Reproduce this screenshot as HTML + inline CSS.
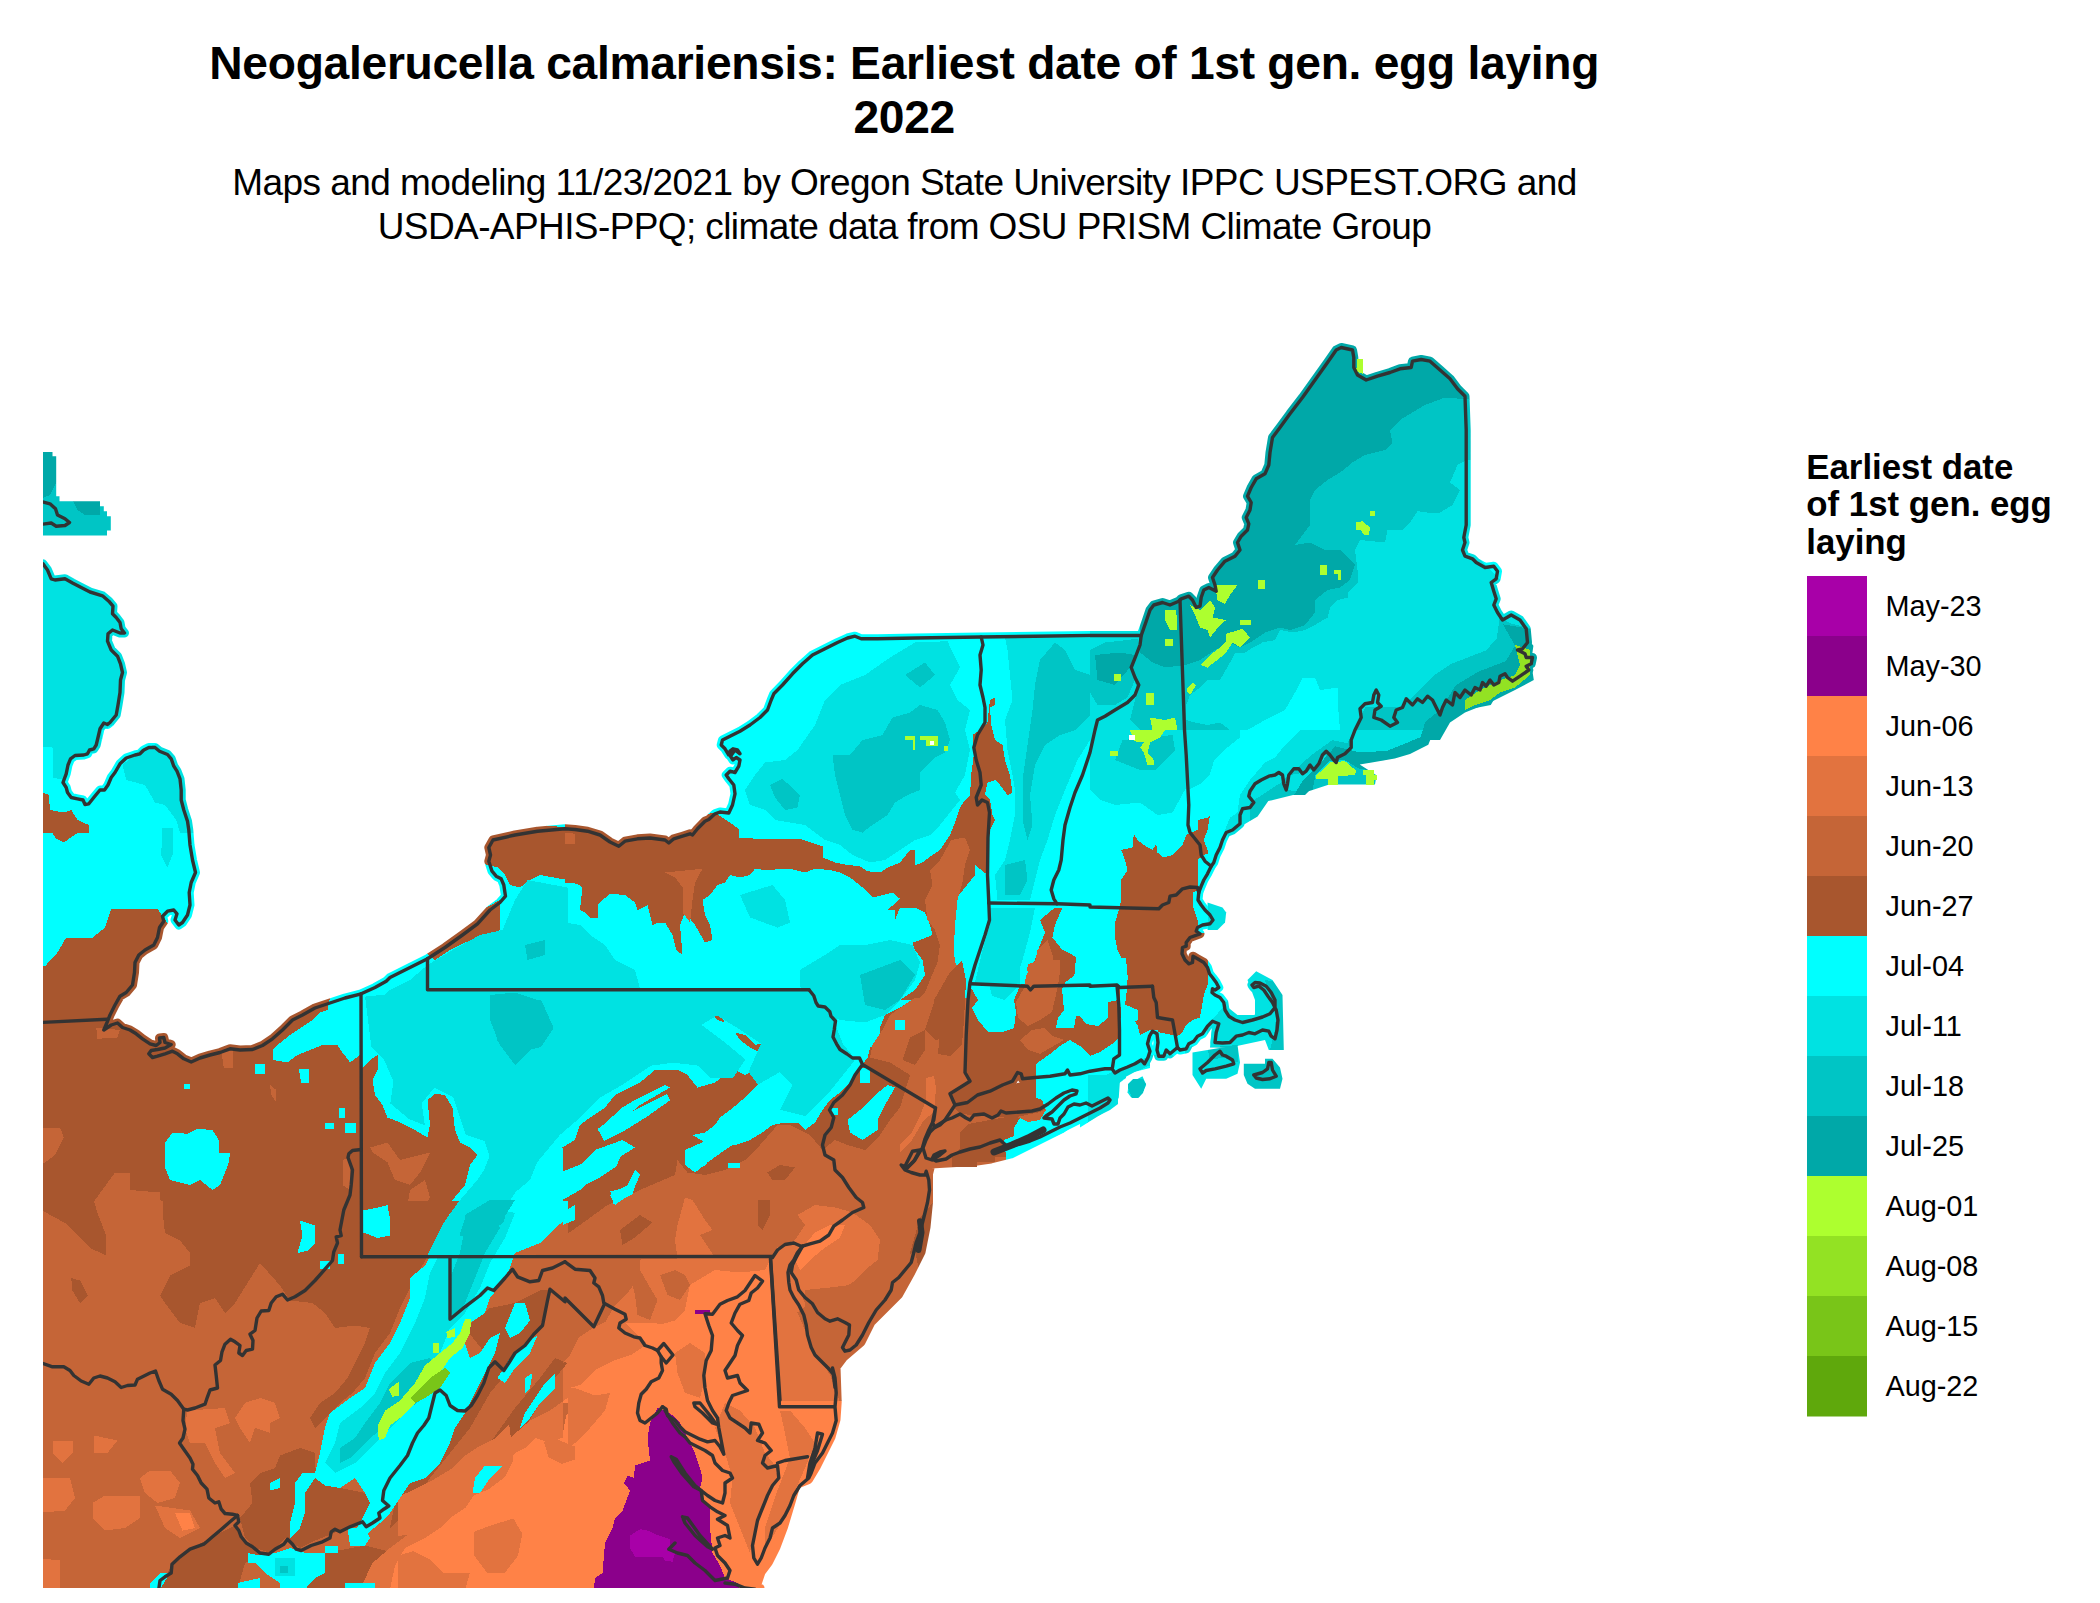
<!DOCTYPE html>
<html><head><meta charset="utf-8"><title>Neogalerucella calmariensis</title>
<style>html,body{margin:0;padding:0;background:#fff}svg{display:block}text{font-family:"Liberation Sans",sans-serif;fill:#000}</style></head><body>
<svg width="2100" height="1603" viewBox="0 0 2100 1603">
<rect width="2100" height="1603" fill="#fff"/>
<defs><clipPath id="box"><rect x="43" y="340" width="1720" height="1248"/></clipPath>
<mask id="land" maskUnits="userSpaceOnUse" x="0" y="0" width="2100" height="1603"><g fill="#fff" stroke="#fff" stroke-width="9" stroke-linejoin="round">
<path d="M40,563.8 43,563.8 47.5,570 51.2,578.8 55,580 65,578.8 72.5,583 81.2,587.5 90,592 102.5,595.8 108.8,601.2 113,606.2 112.5,613.8 116.2,617.5 120,622.5 121.2,628.8 124.5,633 120,633 112.5,630 108,633.8 107.5,641.2 111.2,650 117.5,656.2 120.5,663.8 122.5,672.5 120.5,680 120,692.5 118,705 116.2,715 112.5,719.5 110,722.5 107.5,724.5 103.8,723 100,728.8 98,737.5 96.2,745 93.8,748.8 89.5,750 87.5,753.8 83.8,755 75,755.5 70.5,758.8 68,765 66.2,773.8 63,782.5 66.2,787.5 67.5,792.5 71.2,797.5 77.5,798.8 83,800 85,804.5 88.8,803.8 93.8,797.5 100,790 104.5,790 108,785 111.2,777.5 115,772.5 120,763.8 126.2,758 135,755 140,753.8 143.8,750 148.8,747.5 155,747.5 159.5,751.2 167.5,754.5 171.2,758.8 173.8,766.2 177,771.2 180,778.8 181.2,790 181.2,800 183.8,810 187.5,821.2 188.8,830 190,845 192.5,860 195.5,872.5 191.2,882.5 189.2,892.5 190,905 187.5,915 182.5,922.5 178.8,925 175,920 177,913.8 173.8,910 167.5,911.2 162.5,916.2 163.8,921.2 159.5,927.5 157.5,937.5 153.8,945 145,950 138.8,955 135,962.5 134.5,972.5 132.5,985 126.2,992.5 120,996.2 115,1005 110,1015 107,1022.5 103.8,1030 111.2,1025 117.5,1023 122.5,1027.5 130,1030 136.2,1033.8 142.5,1038.8 150,1043.8 156.2,1045.5 160,1042.5 159.5,1038 163.8,1037.5 165,1042.5 171.2,1044.5 165,1048 157.5,1049.5 151.2,1050.5 148.8,1053.8 152.5,1057.5 157.5,1056.2 165,1053.8 172.5,1051.2 177.5,1053.8 183.8,1058.8 191.2,1062 200,1058 210,1055 220,1052.5 230,1048.8 240,1050 252.5,1049.5 262.5,1045.5 272.5,1038.8 282.5,1030 292.5,1020 302.5,1015 315,1008 330,1003 345,998 361.2,993.8 375,987.5 386.2,981.2 390,977.5 397.5,973.8 410,967.5 427.5,958.8 445,947.5 462.5,935 477.5,923.8 490,910 500,902.5 505.5,896.2 503.8,885 501.2,878.8 496.2,876.2 492,871.2 488.8,861.2 490.5,855 488.8,847.5 493,840 515,835 537.5,831.2 565,828.8 575,829.5 587.5,831.2 600,835 610,842 618.8,846.2 625,841.2 637.5,838.8 650,838 665,840 668.8,843 673.8,838.8 682.5,836.2 690,833.8 692.5,835 697.5,828.8 705,821.2 708.8,819.5 715,813.8 720,812 728.8,813 732.5,805 735,793.8 733.8,785 728.8,778.8 726.2,775 730,771.2 735,772.5 738.8,766.2 740,760 736.2,757.5 733,760 730.5,756.2 735,750 740,753.8 737.5,750 733,748.8 730,751.2 728.8,755 725,748.8 721.2,745 722.5,740 730,736.2 740,731.2 750,725 760,717.5 767.5,710 771.2,700 773.8,693.8 782.5,685 792.5,673.8 802.5,663.8 812.5,655 825,648.8 837.5,642.5 847.5,638 855,636.2 861.2,638.8 877.5,638.8 915,638 980,637 1090,635.5 1141.2,635.5 1146.2,621.2 1150,610 1153.8,605 1162.5,602.5 1170,605 1178.8,601.2 1181.2,598.8 1188.8,596.2 1192.5,600 1196.2,607.5 1200,606.2 1201.2,597.5 1203.8,590 1208.8,587.5 1216.2,591.2 1215,585 1212.5,577.5 1217.5,570 1225,561.2 1235,556.2 1240,550 1237.5,542.5 1241.2,536.2 1247.5,530 1248.8,523.8 1246.2,517.5 1250,510 1251.2,502.5 1247.5,496.2 1251.2,487.5 1256.2,478.8 1265,473.8 1268.8,465 1270,452.5 1272.5,437.5 1280,427.5 1290,413.8 1302.5,397.5 1315,380 1327.5,362.5 1336.2,350 1341.2,347.5 1352.5,350 1353.8,357.5 1353.8,367.5 1357.5,375 1366.2,380 1377.5,376.2 1390,372.5 1400,368.8 1411.2,367.5 1412.5,361.2 1421.2,359.5 1430,361.2 1440,370 1450,378.8 1457.5,388.8 1465,396.2 1466.2,430 1466.2,480 1466.2,525 1463.8,537.5 1465,542.5 1462.5,550 1465,556.2 1472.5,558.8 1476.2,562.5 1485,567.5 1493.8,566.2 1497.5,571.2 1496.2,578.8 1491.2,582.5 1493.8,591.2 1496.2,598.8 1493.8,605 1497.5,612.5 1502.5,620 1511.2,615 1520,620 1526.2,628.8 1527.5,642.5 1522.5,648.8 1517.5,650 1525,653.8 1526.2,657.5 1532.5,657.5 1531.2,663.8 1526.2,666.2 1528.8,670 1520,676.2 1512.5,681.2 1507.5,677.5 1505,673.8 1500,676.2 1498.8,682.5 1493.8,685 1490,680 1486.2,686.2 1482.5,682.5 1480,690 1475,687.5 1471.2,695 1465,690 1460,697.5 1455,692.5 1452.5,705 1446.2,700 1442.5,707.5 1440,715 1436.2,707.5 1432.5,700 1427.5,696.2 1422.5,702.5 1417.5,698.8 1412.5,705 1406.2,698.8 1402.5,707.5 1396.2,710 1393.8,717.5 1397.5,722.5 1390,726.2 1381.2,720 1373.8,717.5 1375,710 1381.2,706.2 1377.5,702.5 1378.8,695 1376.2,690 1373.8,695 1372.5,702.5 1365,703.8 1360,708.8 1361.2,717.5 1357.5,725 1355,730 1351.2,740 1351.2,747.5 1345,753.8 1337.5,757.5 1336.2,762.5 1333.8,760 1330,755 1326.2,751.2 1322.5,755 1318.8,763.8 1313.8,770 1310,765 1306.2,771.2 1302.5,773.8 1298.8,768.8 1293.8,768.8 1288.8,775 1287.5,783.8 1286.2,790 1283.8,783.8 1282.5,775 1278.8,772.5 1275,775 1268.8,776.2 1261.2,780 1255,783.8 1250,791.2 1248.8,796.2 1253.8,802.5 1250,807.5 1242.5,808.8 1240,815 1240,823.8 1232.5,830 1226.2,832.5 1222.5,840 1220,847.5 1216.2,855 1213.8,862.5 1211.2,866.2 1207.5,873.8 1203.8,880 1201.2,886.2 1198.8,892.5 1198,900 1201.2,905 1205,910 1210,915 1213,920 1210,923.8 1202.5,925 1197.5,927.5 1196.2,931.2 1200,933.8 1190,937.5 1186.2,942.5 1186.2,946.2 1182.5,947.5 1182,953.8 1185,960 1188.8,963.8 1192.5,962.5 1193,956.2 1197.5,958.8 1203.8,962.5 1207.5,967.5 1209.5,973.8 1212.5,977.5 1216.2,982.5 1218.8,987.5 1215,990 1212.5,988.8 1212,992.5 1215,995 1220,997.5 1223.8,1002.5 1225,1010 1228.8,1016.2 1235,1020 1242.5,1022.5 1252.5,1020 1262.5,1017 1270,1013.8 1275,1007.5 1275,1000 1271.2,992.5 1266.2,986.2 1260,983 1255,982.5 1252,985 1253.8,987.5 1258.8,986.2 1263.8,990 1268,996.2 1272.5,1002.5 1276.2,1010 1278,1020 1277,1030 1275,1038.8 1271.2,1036.2 1268.8,1031.2 1262.5,1030 1255,1033.8 1248.8,1032.5 1242.5,1035 1236.2,1036.2 1230,1042.5 1222.5,1043 1215,1042.5 1216.2,1032.5 1218.8,1023.8 1212.5,1021.2 1207.5,1026.2 1202.5,1033.8 1197.5,1036.2 1193.8,1041.2 1188.8,1043.8 1186.2,1048.8 1180,1050 1177.5,1047.5 1170,1053.8 1166.2,1050 1163.8,1056.2 1158.8,1056.2 1157,1050 1158,1042.5 1157,1033.8 1152.5,1031.2 1149.5,1036.2 1147.5,1043.8 1150,1051.2 1148,1057.5 1144.5,1063.8 1141.2,1060 1135,1063.8 1127.5,1067 1120,1070 1115,1073 1112,1068.8 1105,1068.8 1090,1071.2 1080,1073.8 1070,1075 1067.5,1070 1065,1073.8 1050,1076.2 1035,1077.5 1022.5,1078.8 1021.2,1073.8 1017.5,1072.5 1012.5,1081.2 1002.5,1085 990,1091.2 977.5,1095 967.5,1102.5 955,1105 1088.5,1109 1061,1129 1036,1141.5 1011,1154 991,1159 973.5,1161.5 931,1164 928.5,1174 928.5,1199 928.5,1202 926,1227 921,1252 911,1272 898.5,1294.5 886,1307 871,1322 861,1342 843.5,1357 836,1367 837.2,1402 836,1419.5 831,1437 823.5,1452 816,1467 808.5,1479.5 796,1484.5 791,1502 783.5,1527 776,1547 768.5,1562 761,1572 756,1587 760,1588 40,1588 40,563.8Z"/>
</g><g fill="#fff">
<path d="M40,452 52.5,452 52.5,456.2 56.2,456.2 56.2,496.2 59.5,496.2 59.5,501.2 100,501.2 100,506.2 103.8,506.2 103.8,511.2 107,511.2 107,516.2 110.8,516.2 110.8,530.5 107,530.5 107,535.5 40,535.5Z"/>
<path d="M1355,720 1437.5,720 1431.2,735 1422.5,746.2 1410,751.2 1395,756.2 1385,760 1360,761.2 1340,771.2 1315,775 1312.5,787.5 1305,795 1287.5,795 1287.5,775 1315,755 1350,745Z"/>
<path d="M1192.5,1052.5 1237.5,1045 1240,1062.5 1237.5,1073.8 1226.2,1078.8 1206.2,1078.8 1201.2,1088.8 1192.5,1075Z"/>
<path d="M1243.8,1063.8 1265,1063.8 1265,1058.8 1272.5,1058.8 1280,1067.5 1282.5,1078.8 1280,1088.8 1255,1088.8 1247.5,1083.8 1243.8,1075Z"/>
<path d="M1128.8,1083.8 1142.5,1076.2 1146.2,1085 1142.5,1092.5 1138.8,1097.5 1131.2,1097.5 1127.5,1092.5Z"/>
<path d="M1080,1070 1147.5,1065 1120,1080 1118.8,1097.5 1115,1105 1100,1115 1080,1127.5Z"/>
<path d="M1207.5,902.5 1222.5,907.5 1226.2,912.5 1225,922.5 1217.5,930 1207.5,930Z"/>
<path d="M1247.5,980 1256.2,971.2 1272.5,980 1282.5,995 1283.8,1050 1268.8,1050 1265,1040 1230,1047.5 1210,1047.5 1212.5,1020 1225,1005 1237.5,1015 1255,1015 1255,1000Z"/>
<path d="M934,1100 1150,1056 1150,1068 1126,1074 1126,1078 1118,1084 1118,1104 1110,1110 1100,1115 1092,1118 1080,1124 1068,1130 1056,1136 1040,1142 1024,1150 1009,1152 1009,1157 995,1157 995,1162 977,1162 977,1167 932,1167 924,1160 920,1140Z"/>
<path d="M1128,1084 1133,1079 1143,1079 1146,1084 1143,1093 1138,1098 1132,1098 1128,1088Z"/>
<path d="M1365,700 1465,687.5 1515,675 1530,655 1533.8,680 1515,690 1490,702.5 1465,712.5 1450,722.5 1440,740 1352.5,740Z"/>
<path d="M1533.4,645.7 1529.6,673.1 1518.2,685.3 1496.9,694.5 1490.8,705.1 1466.4,709.7 1448.1,718.9 1434.4,729.5 1428.3,744.8 1410,753.9 1394.8,758.5 1359.7,764.6 1376.5,775.2 1375,784.4 1329.2,784.4 1311,790.5 1268.3,801.1 1257.6,816.4 1242.4,825.5 1242.4,767.6 1341.4,706.7 1432.9,661 1509,615.2Z"/>
</g></mask></defs>
<g clip-path="url(#box)"><g mask="url(#land)" shape-rendering="crispEdges">
<rect x="0" y="300" width="1800" height="1300" fill="#00FFFF"/>
<path fill="#A8562E" d="M565,815 675,820 715,812.5 738.8,828.8 738.8,837.5 757.5,838.8 777.5,838.8 802.5,839.5 822.5,846.2 822.5,857.5 835,862.5 847.5,865 860,866.2 867.5,871.2 880,872.5 887.5,867.5 900,862.5 910,850 915,850 915,865 922.5,862.5 932.5,855 940,850 950,835 955,822.5 960,807.5 965,800 970,795 971.2,775 973.8,755 972.5,735 980,730 987.5,722.5 990,700 995,697.5 995,705 990,707.5 991.2,725 995,740 1002.5,745 1005,760 1010,775 1012.5,792.5 1007.5,795 1000,785 995,780 987.5,782.5 985,795 990,800 992.5,815 995,820 990,830 987.5,850 987.5,875 975,865 975,875 965,887.5 955,900 947.5,915 945,932.5 940,950 937.5,962.5 935,975 930,990 925,1000 900,1000 915,990 925,975 922.5,960 915,950 912.5,942.5 920,940 932.5,935 930,925 925,912.5 915,907.5 900,907.5 895,920 895,910 887.5,910 900,898.8 892.5,892.5 872.5,897.5 862.5,887.5 850,877.5 840,872.5 830,870 815,868.8 805,872.5 790,868.8 765,870 755,868.8 750,875 740,877.5 730,875 725,882.5 717.5,885 710,895 702.5,900 705,915 710,925 712.5,940 705,942.5 695,925 685,912.5 680,925 682.5,955 676.2,950 672.5,935 665,922.5 657.5,922.5 652.5,925 647.5,905 637.5,910 635,902.5 625,895 610,893.8 602.5,900 597.5,905 597.5,917.5 590,917.5 585,912.5 580,910 582.5,887.5 577.5,883.8 565,882.5Z M1040,920 1055,907.5 1062.5,907.5 1055,925 1052.5,937.5 1062.5,950 1072.5,955 1080,960 1075,975 1065,982.5 1062.5,1000 1027.5,1000 1027.5,975 1035,960 1040,945 1045,932.5Z M1121.2,890 1121.2,880 1127.5,870 1125,860 1121.2,850 1132.5,847.5 1133.8,833.8 1137.5,840 1143.8,845 1152.5,850 1156.2,843.8 1157.5,852.5 1162.5,857.5 1172.5,855 1182.5,845 1186.2,835 1197.5,830 1197.5,820 1207.5,817.5 1210,815 1207.5,830 1203.8,840 1207.5,850 1207.5,853.8 1203.8,855 1197.5,860 1197.5,890 1192.5,892.5 1192.5,905 1197.5,920 1197.5,932.5 1207.5,932.5 1207.5,937.5 1200,942.5 1200,952.5 1207.5,955 1207.5,985 1203.8,995 1200,1017.5 1192.5,1020 1186.2,1025 1182.5,1032.5 1177.5,1036.2 1172.5,1035 1160,1032.5 1150,1030 1140,1035 1137.5,1025 1132.5,1017.5 1127.5,1012.5 1125,1005 1127.5,985 1125,975 1122.5,960 1117.5,950 1115,937.5 1115,922.5 1118.8,910 1121.2,900Z M1087.5,1025 1100,1027.5 1105,1015 1108.8,1001.2 1110,1017.5 1108.8,1035 1113.8,1040 1112.5,1047.5 1105,1052.5 1097.5,1057.5 1087.5,1055Z M562.5,1147.5 575,1140 580,1125 590,1117.5 605,1107.5 615,1095 630,1087.5 640,1082.5 655,1070 677.5,1070 687.5,1075 697.5,1087.5 715,1082.5 725,1075 735,1070 745,1075 755,1070 765,1060 772.5,1057.5 765,1042.5 755,1045 745,1035 735,1032.5 740,1040 750,1047.5 760,1052.5 765,1065 777.5,1060 787.5,1055 782.5,1065 772.5,1075 762.5,1082.5 752.5,1095 740,1105 730,1110 720,1117.5 715,1125 705,1132.5 692.5,1135 705,1142.5 715,1147.5 735,1145 750,1140 762.5,1132.5 772.5,1125 785,1122.5 797.5,1122.5 805,1130 815,1122.5 822.5,1110 830,1100 840,1092.5 850,1082.5 857.5,1072.5 862.5,1064.5 867.5,1057.5 870,1047.5 880,1042.5 880,1027.5 885,1015 900,1007.5 915,997.5 1092.5,997.5 1092.5,1402.5 562.5,1402.5Z M712.5,1015 720,1015 725,1022.5 717.5,1020Z M37.5,790 48.8,795 50,810 63.8,812.5 71.2,810 77.5,820 88.8,825 88.8,832.5 37.5,832.5Z M48.8,827.5 85,827.5 63.8,842.5 56.2,838.8Z M37.5,966.2 45,966.2 57.5,952.5 66.2,937.5 92.5,937.5 105,927.5 111.2,908.8 157.5,908.8 162.5,916.2 190,955 190,1025 215,1037.5 252.5,1037.5 287.5,1007.5 315,992.5 331.2,992.5 327.5,1010 320,1012.5 312.5,1020 305,1025 290,1035 277.5,1045 272.5,1050 272.5,1060 287.5,1062.5 297.5,1055 310,1050 322.5,1045 337.5,1045 342.5,1052.5 350,1062.5 360,1055 361.2,1070 370,1060 377.5,1055 377.5,1070 372.5,1080 375,1095 382.5,1105 387.5,1117.5 400,1122.5 415,1130 427.5,1137.5 430,1125 427.5,1100 435,1093.8 445,1095 452.5,1107.5 455,1130 460,1142.5 470,1147.5 477.5,1155 470,1165 465,1185 452.5,1200 445,1215 440,1232.5 37.5,1232.5Z M422.5,950 462.5,920 477.5,912.5 500,900 500,930 485,935 465,942.5 450,950 435,960Z M487.5,865 480,862.5 480,837.5 515,822.5 567.5,827.5 567.5,880 540,875 530,880 520,887.5 510,885 505,875 497.5,867.5Z"/>
<path fill="#C56537" d="M665,872.5 702.5,868.8 695,882.5 692.5,900 690,922.5 682.5,912.5 682.5,887.5 675,877.5Z M565,832.5 575,833.8 575,843.8 565,843.8Z M1037.5,950 1047.5,940 1052.5,955 1055,970 1050,990 1040,1000 1030,1000 1032.5,975Z M562.5,1237.5 580,1225 607.5,1205 640,1190 675,1175 677.5,1160 687.5,1172.5 705,1175 725,1170 745,1160 760,1145 777.5,1125 790,1125 810,1135 822.5,1150 835,1140 847.5,1145 865,1150 880,1135 890,1120 900,1107.5 910,1075 890,1062.5 870,1057.5 872.5,1045 882.5,1030 890,1015 915,997.5 1092.5,997.5 1092.5,1175 940,1175 935,1250 865,1362.5 840,1402.5 562.5,1402.5Z M37.5,1127.5 60,1127.5 63.8,1137.5 55,1155 45,1162.5 37.5,1162.5Z M95,1200 115,1172.5 130,1172.5 130,1190 160,1192.5 162.5,1232.5 100,1232.5Z M262.5,1215 277.5,1210 280,1232.5 262.5,1232.5Z M37.5,1210 55,1220 60,1232.5 37.5,1232.5Z M221.2,1050 232.5,1050 232.5,1067.5 223.8,1067.5Z M96.2,1027.5 120,1030 117.5,1037.5 97.5,1038.8Z M270,1085 276.2,1090 276.2,1102.5 271.2,1095Z M370,1147.5 387.5,1142.5 400,1160 430,1152.5 420,1172.5 410,1185 395,1180 387.5,1162.5 372.5,1152.5Z M410,1190 425,1180 430,1197.5 415,1220 407.5,1205Z M342.5,1160 350,1157.5 350,1190 342.5,1185Z M37.5,1200.5 567.5,1200.5 567.5,1589.2 37.5,1589.2Z M951.2,840 965,837.5 970,850 965,865 962.5,882.5 957.5,900 955,925 953.8,950 955,962.5 962.5,975 962.5,1002.5 915,1002.5 925,992.5 930,980 937.5,962.5 940,945 935,930 927.5,920 925,900 932.5,885 930,870 940,860Z"/>
<path fill="#E2733F" d="M562.5,1260 615,1260 677.5,1258.8 675,1240 677.5,1225 685,1197.5 692.5,1200 705,1220 712.5,1230 700,1235 715,1257.5 772.5,1257.5 777.5,1247.5 795,1240 805,1225 797.5,1215 815,1205 835,1207.5 852.5,1212.5 870,1225 880,1240 877.5,1260 865,1270 850,1285 830,1287.5 805,1290 805,1312.5 815,1350 830,1375 840,1402.5 562.5,1402.5Z"/>
<path fill="#FF8247" d="M815,1232.5 830,1225 845,1225 840,1237.5 825,1247.5 810,1260 800,1270 795,1260 802.5,1247.5Z M690,1285 715,1270 740,1272.5 765,1270 770,1260 772.5,1325 775,1402.5 640,1402.5 650,1385 660,1370 660,1355 640,1337.5 625,1322.5 647.5,1322.5 670,1325 685,1310Z M562.5,1390 580,1385 595,1370 615,1360 635,1355 650,1365 652.5,1380 640,1402.5 562.5,1402.5Z M562.5,1435.5 566,1416 574.8,1402.8 574.8,1389.8 592.2,1381 609.5,1368 618.2,1359.2 631.5,1354.8 644.5,1346 649,1333 662,1324.2 675,1320.5 690,1318 692.5,1288 705,1278 715,1270.5 740,1275.5 765,1270.5 770.5,1260.5 779,1400.5 847.5,1400.5 847.5,1428 815,1488 765,1589.2 562.5,1589.2Z"/>
<path fill="#A8562E" d="M935,1000 965,1000 962.5,1025 950,1037.5 935,1040 925,1030Z M910,1037.5 925,1030 925,1050 915,1065 902.5,1060Z M620,1230 640,1215 652.5,1222.5 635,1237.5 622.5,1245Z M757.5,1200 770,1200 770,1215 762.5,1230 757.5,1225Z M767.5,1172.5 780,1165 795,1167.5 785,1180 772.5,1180Z M677.5,1155 695,1172.5 715,1165 735,1150 720,1145 705,1150Z M920,1218 932.5,1203 932.5,1228 925,1258 910,1283 890,1308 870,1328 852.5,1353 840,1358 845,1338 865,1315.5 885,1290.5 910,1253Z M934,1000 950,972 962,960 966,980 964,1020 962,1044 950,1056 938,1054 940,1030Z M960,1132 968,1124 1012,1116 1020,1118 1014,1128 1014,1136 1004,1140 1008,1152 1008,1157 995,1157 995,1162 977,1162 977,1167 952,1167 952,1156 960,1148Z M978,1096 1000,1092 1020,1082 1036,1080 1036,1100 1040,1109 1020,1112 1000,1112 992,1118 984,1114 974,1115 960,1114 954,1108Z M968,984 1120,984 1122,1072 1040,1112 1012,1118 960,1114 950,1096 970,1082 964,1072Z M37.5,1208 65,1223 90,1248 106.2,1255.5 106.2,1235.5 97.5,1213 93.8,1200.5 37.5,1200.5Z M162.5,1200.5 362.5,1200.5 362.5,1256.8 427.5,1256.8 415,1278 400,1308 390,1333 375,1353 365,1378 352.5,1393 340,1403 325,1418 315,1428 310,1418 320,1403 335,1393 347.5,1378 365,1343 370,1328 355,1325.5 335,1328 325,1313 312.5,1303 290,1300.5 280,1285.5 260,1263 247.5,1283 235,1303 225,1313 215,1298 200,1303 195,1328 180,1323 165,1303 160,1295.5 170,1275.5 190,1265.5 190,1253 180,1240.5 165,1233 162.5,1210.5Z M280,1455.5 300,1448 315,1453 315,1468 335,1473 340,1488 365,1493 375,1503 365,1520.5 340,1530.5 315,1540.5 300,1548 285,1538 270,1553 255,1548 245,1538 240,1518 252.5,1503 250,1483 260,1473 275,1468Z M160,1589.2 172.5,1563 190,1549.2 215,1535.5 235,1525.5 247.5,1543 265,1555.5 245,1563 237.5,1589.2Z M325,1553 365,1545.5 395,1553 395,1589.2 290,1589.2 315,1565.5Z M465,1328 490,1308 515,1303 540,1290.5 550,1289.2 540,1328 515,1363 490,1393 470,1428 450,1453 430,1478 415,1503 390,1528 395,1503 410,1473 430,1428 440,1398 460,1403 475,1378 485,1353Z M567.5,1363 555,1378 540,1403 525,1428 510,1453 490,1478 465,1503 475,1473 490,1443 515,1408 540,1378 555,1358Z M71.2,1278 80,1280.5 87.5,1295.5 80,1303 72.5,1290.5Z M362.5,1200.5 470,1200.5 445,1256.8 362.5,1256.8Z"/>
<path fill="#C56537" d="M562.5,1260 590,1270 597.5,1287.5 602.5,1305 595,1325 562.5,1300Z M630,1275 640,1270 650,1287.5 657.5,1300 650,1320 637.5,1315 635,1295Z M660,1275 675,1270 685,1275 690,1285 680,1300 667.5,1295Z M797.5,1312.5 815,1300 840,1290 865,1275 890,1270 915,1250 920,1275 865,1362.5 840,1375 815,1355 805,1330Z M797.5,1285.5 815,1308 840,1320.5 850,1328 842.5,1353 833.8,1368 815,1343 805,1303Z"/>
<path fill="#E2733F" d="M675,1353 690,1343 705,1353 705,1378 700,1398 685,1393 677.5,1373Z M725,1403 740,1410.5 755,1428 765,1453 775,1465.5 777.5,1478 765,1503 755,1528 750,1553 740,1528 730,1503 732.5,1478 725,1453 715,1428Z M562.5,1388 575,1388 595,1395.5 610,1393 605,1410.5 590,1428 575,1443 562.5,1453Z M780,1410.5 790,1410.5 805,1428 815,1443 805,1468 795,1490.5 785,1515.5 775,1533 765,1548 765,1528 777.5,1490.5 790,1458 785,1433Z M926,1078 934,1076 936,1088 934,1112 924,1120 912,1140 900,1152 900,1144 912,1132 920,1116 926,1100Z M567.5,1398 550,1410.5 530,1420.5 510,1438 490,1458 470,1478 450,1498 430,1515.5 410,1533 390,1548 372.5,1563 360,1589.2 567.5,1589.2Z M187.5,1410.5 225,1408 230,1423 215,1428 220,1453 235,1473 225,1478 215,1463 205,1443 190,1443 185,1428Z M235,1418 245,1403 260,1398 275,1403 280,1418 270,1423 270,1433 255,1428 250,1443 240,1428Z M52.5,1440.5 72.5,1440.5 72.5,1453 62.5,1463 52.5,1453Z M93.8,1435.5 117.5,1440.5 107.5,1453 93.8,1453Z M140,1478 150,1470.5 170,1470.5 180,1483 175,1498 157.5,1503 145,1493Z M92.5,1503 105,1495.5 140,1495.5 140,1518 125,1528 105,1530.5 92.5,1518Z M37.5,1478 70,1478 75,1498 65,1510.5 37.5,1513Z M155,1505.5 190,1510.5 200,1528 180,1538 165,1528Z M37.5,1558 60,1560.5 60,1589.2 37.5,1589.2Z"/>
<path fill="#FF8247" d="M567.5,1435.5 550,1443 535,1438 525,1448 515,1453 505,1463 490,1478 480,1493 465,1498 450,1518 440,1528 425,1538 405,1548 395,1565.5 390,1589.2 567.5,1589.2Z M175,1513 190,1513 195,1528 182.5,1530.5Z"/>
<path fill="#C56537" d="M1028,964 1040,960 1060,960 1060,972 1058,986 1052,1012 1040,1020 1028,1026 1018,1018 1016,1002 1024,988Z M1020,1040 1032,1030 1044,1028 1052,1036 1064,1040 1050,1048 1040,1054 1028,1050Z M926,1126 960,1114 968,1124 960,1132 960,1148 952,1156 932,1160 923,1148Z M562.7,1258.7 640.2,1258.7 640.2,1276.2 627.1,1293.7 614,1306.8 605.2,1322.1 592.1,1328.6 579,1337.3 570.3,1354.8 562.7,1363.5Z"/>
<path fill="#E2733F" d="M474.2,1531.7 491.7,1525.1 513.5,1518.6 522.3,1533.8 517.9,1555.7 504.8,1573.1 487.3,1573.1 474.2,1555.7Z M397.8,1555.7 413.1,1551.3 430.6,1560 443.7,1573.1 469.9,1573.1 465.5,1588.4 397.8,1588.4Z M397.8,1496.7 413.1,1490.2 430.6,1481.4 452.4,1468.3 465.5,1455.2 478.6,1446.5 496.1,1437.8 509.2,1424.7 513.5,1459.6 504.8,1477.1 487.3,1490.2 474.2,1494.5 465.5,1507.6 452.4,1516.4 439.3,1525.1 426.2,1520.7 417.5,1533.8 397.8,1536Z M544.1,1442.1 552.8,1437.8 574.7,1446.5 574.7,1459.6 561.6,1464 548.5,1457.4Z"/>
<path fill="#8B008B" d="M695,1309.5 709.5,1309.5 709.5,1313.8 695,1313.8Z M593.8,1589.2 595,1578 602.5,1573 605,1543 612.5,1528 615,1518 622.5,1510.5 630,1490.5 623.8,1483 627.5,1475.5 633.8,1478 635,1465.5 650,1460.5 647.5,1438 650,1423 657.5,1408 665,1410.5 672.5,1415.5 680,1423 685,1433 690,1443 695,1453 700,1468 702.5,1478 700,1488 705,1503 710,1508 710,1528 712.5,1553 720,1565.5 725,1578 737.5,1583 740,1589.2Z"/>
<path fill="#A800A8" d="M630,1535.5 640,1529.2 647.5,1530.5 655,1534.2 670,1539.2 670,1550.5 675,1553 672.5,1561.8 665,1560.5 662.5,1556.8 635,1556.8 630,1548Z"/>
<path fill="#00FFFF" d="M1302.5,677.5 1315,677.5 1320,690 1337.5,687.5 1337.5,700 1327.5,712.5 1315,720 1302.5,730 1247.5,730 1265,720 1285,710 1295,692.5Z M597.5,1130 622.5,1107.5 635,1100 665,1085 670,1087.5 640,1105 625,1117.5 605,1135Z M562.5,1175 580,1165 595,1150 622.5,1140 635,1147.5 615,1160 595,1175 580,1190 562.5,1200Z M610,1195 627.5,1185 635,1170 640,1175 632.5,1192.5 615,1205Z M562.5,1212.5 575,1205 575,1220 562.5,1225Z M685,1150 707.5,1140 725,1132.5 740,1140 725,1150 707.5,1162.5 695,1172.5 685,1165Z M727.5,1162.5 740,1162.5 740,1167.5 727.5,1167.5Z M847.5,1120 860,1110 875,1095 887.5,1085 895,1087.5 885,1105 877.5,1120 877.5,1130 862.5,1140 850,1132.5Z M830,1107.5 837.5,1107.5 837.5,1115 830,1115Z M860,1067.5 870,1067.5 870,1082.5 860,1082.5Z M895,1020 905,1020 905,1030 895,1030Z M970,966 1020,960 1028,972 1020,986 1014,1000 1016,1012 1014,1028 1002,1032 988,1032 978,1020 972,1008 978,1000 970,986Z M1076,958 1126,958 1128,980 1118,986 1118,1000 1108,1002 1108,1018 1098,1026 1086,1024 1080,1016 1076,1016 1074,1028 1056,1028 1058,1018 1064,1010 1062,988 1074,980Z M1036,1064 1050,1054 1060,1046 1070,1040 1080,1046 1090,1056 1100,1052 1112,1044 1120,1036 1120,1020 1124,1004 1138,1010 1138,1020 1128,1026 1126,1040 1140,1040 1150,1030 1158,1030 1160,1048 1180,1048 1180,1112 1120,1126 1008,1172 1004,1140 1014,1136 1014,1128 1020,1118 1028,1122 1040,1120 1046,1110 1042,1100 1036,1098Z M165,1142.5 172.5,1132.5 187.5,1133.8 197.5,1128.8 212.5,1130 218.8,1140 218.8,1152.5 230,1152.5 228.8,1162.5 225,1172.5 220,1185 212.5,1190 200,1180 190,1185 170,1180 165,1167.5Z M255,1063.8 265,1063.8 265,1073.8 255,1073.8Z M183.8,1083.8 190,1083.8 190,1088.8 183.8,1088.8Z M298.8,1068.8 308.8,1068.8 308.8,1082.5 301.2,1082.5Z M338.8,1107.5 345,1107.5 345,1117.5 338.8,1117.5Z M345,1122.5 356.2,1122.5 356.2,1132.5 345,1132.5Z M325,1122.5 333.8,1122.5 333.8,1128.8 325,1128.8Z M362.5,1212.5 387.5,1205 387.5,1232.5 362.5,1232.5Z M430,1256.8 440,1233 450,1213 465,1200.5 567.5,1200.5 567.5,1218 555,1228 540,1243 515,1253 510,1268 500,1285.5 490,1298 485,1313 470,1323 465,1343 470,1358 480,1353 490,1338 500,1333 495,1353 485,1373 475,1393 465,1413 455,1428 450,1443 440,1463 425,1478 410,1483 400,1498 390,1513 380,1523 365,1535.5 350,1538 360,1523 370,1503 365,1493 355,1478 340,1488 325,1485.5 315,1478 305,1493 305,1513 300,1528 290,1538 290,1523 295,1503 295,1483 302.5,1473 315,1473 320,1453 325,1428 330,1413 350,1398 365,1388 375,1363 390,1343 400,1323 410,1298 410,1278 425,1265.5Z M515,1303 525,1303 530,1320.5 520,1333 510,1338 505,1328Z M525,1343 537.5,1335.5 530,1353 515,1368 505,1383 497.5,1378 510,1358Z M525,1378 532.5,1373 530,1388 525,1393Z M545,1383 555,1373 555,1388 540,1403 530,1418 520,1428 525,1413 535,1398Z M475,1478 485,1465.5 502.5,1465.5 490,1478 480,1493 472.5,1493Z M247.5,1553 260,1555.5 275,1553 290,1548 305,1553 325,1553 325,1573 315,1578 305,1589.2 280,1589.2 280,1583 265,1573 255,1563 247.5,1563Z M347.5,1528 365,1528 370,1538 365,1545.5 350,1545.5Z M325,1545.5 337.5,1545.5 337.5,1553 325,1553Z M345,1583 375,1583 375,1589.2 345,1589.2Z M237.5,1583 260,1578 260,1589.2 237.5,1589.2Z M150,1583 160,1573 170,1573 160,1589.2 150,1589.2Z M362.5,1210.5 375,1208 387.5,1205.5 390,1218 390,1235.5 377.5,1238 365,1233Z M300,1220.5 315,1225.5 315,1243 307.5,1250.5 297.5,1253 302.5,1235.5Z M320,1260.5 330,1260.5 330,1269.2 320,1269.2Z M337.5,1254.2 343.8,1254.2 343.8,1264.2 337.5,1264.2Z M270,1483 280,1478 280,1488 270,1490.5Z M597.7,1128.6 622.8,1116 666.8,1094 670,1100.3 648,1116 622.8,1131.7 604,1141.1Z M560,1172.6 591.4,1160 622.8,1150.6 616.6,1166.3 597.7,1178.8 572.6,1191.4 560,1188.3Z M685.7,1156.8 704.6,1141.1 723.4,1116 745.4,1097.1 761.1,1081.4 780,1065.7 786.3,1059.4 780,1078.3 761.1,1097.1 745.4,1116 723.4,1141.1 704.6,1166.3 685.7,1166.3Z M610.3,1191.4 635.4,1185.1 632.3,1194.6 613.4,1204Z"/>
<path fill="#00E2E2" d="M840,685 865,675 890,657.5 915,642.5 947.5,641.2 955,657.5 960,667.5 950,685 957.5,700 970,710 965,730 970,750 965,775 955,792.5 960,800 950,812.5 940,825 930,835 915,840 900,850 885,860 870,862.5 852.5,855 840,845 825,840 805,825 790,822.5 775,820 765,810 750,805 745,790 755,775 765,762.5 785,760 797.5,750 815,725 825,700Z M565,922.5 580,925 590,935 605,945 615,960 635,970 640,988.8 565,988.8Z M740,895 772.5,885 785,900 790,922.5 777.5,927.5 750,917.5Z M800,970 825,955 840,945 865,945 890,940 912.5,945 920,962.5 915,980 900,1000 885,1015 865,1022.5 840,1020 820,1012.5 805,1000 800,985Z M1005,637.5 1090,637.5 1090,740 1077.5,760 1065,790 1055,815 1047.5,840 1040,860 1035,880 1030,900 997.5,900 995,875 1005,860 1010,840 1015,815 1015,790 1012.5,775 1007.5,750 1005,720 1012.5,700 1010,675 1007.5,650Z M990,907.5 1035,907.5 1030,932.5 1022.5,960 1015,982.5 975,982.5 982.5,950 990,925Z M1090,630 1140,592.5 1202.5,555 1240,480 1265,430 1335,340 1475,340 1475,555 1540,617.5 1540,692.5 1440,730 1340,730 1337.5,700 1337.5,687.5 1320,690 1315,677.5 1302.5,677.5 1295,692.5 1285,710 1265,720 1247.5,730 1090,730Z M1090,730 1185,730 1186.2,787.5 1172.5,812.5 1157.5,815 1140,802.5 1115,805 1100,800 1090,790Z M1300,730 1285,745 1275,757.5 1265,762.5 1250,780 1240,795 1237.5,812.5 1230,817.5 1225,830 1230,840 1250,820 1265,802.5 1270,797.5 1305,795 1315,780 1340,767.5 1365,762.5 1415,752.5 1437.5,730Z M1225,1005 1240,975 1260,965 1290,970 1290,1055 1205,1055 1207.5,1025Z M1185,1047.5 1245,1037.5 1245,1095 1185,1095Z M1115,1075 1150,1055 1172.5,1055 1180,1062.5 1172.5,1065 1147.5,1066.2 1120,1080 1117.5,1097.5 1100,1116.2 1087.5,1122.5 1087.5,1075Z M1123.8,1072.5 1151.2,1072.5 1151.2,1102.5 1123.8,1102.5Z M1207.5,902.5 1227.5,905 1227.5,930 1207.5,932.5Z M988,964 1020,964 1020,984 1004,1000 992,996 988,980Z M1096,1080 1112,1072 1126,1072 1120,1088 1118,1106 1100,1116 1092,1108Z M37.5,552.5 70,570 120,597.5 132.5,630 132.5,680 127.5,717.5 102.5,730 100,752.5 75,755 67.5,765 63.8,780 52.5,777.5 52.5,747.5 37.5,746.2Z M122.5,765 126.2,780 145,785 155,802.5 165,805 176.2,820 180,832.5 200,832.5 190,780 180,755 160,742.5 140,750Z M162.5,827.5 172.5,827.5 172.5,855 167.5,867.5 161.2,855Z M372.5,1005 390,990 410,980 427.5,965 452.5,950 480,935 502.5,930 515,900 527.5,880 567.5,887.5 567.5,1105 555,1125 540,1155 530,1180 515,1192.5 505,1205 490,1220 470,1232.5 452.5,1232.5 465,1205 480,1180 490,1155 497.5,1130 497.5,1105 480,1095 465,1080 450,1070 445,1055 425,1050 410,1055 395,1045 390,1030 375,1020Z M440,1253 465,1218 490,1208 515,1213 505,1238 490,1263 480,1288 465,1313 450,1328 440,1353 425,1378 415,1403 395,1423 375,1443 355,1463 335,1473 325,1463 335,1443 340,1423 360,1408 375,1393 385,1373 400,1353 415,1323 425,1298 430,1273Z M275,1558 295,1558 295,1575.5 275,1575.5Z M365.1,996.6 428,990.3 811.4,990.3 830.3,1012.3 842.8,1043.7 855.4,1059.4 830.3,1090.8 805.1,1116 780,1109.7 792.5,1084.6 780,1072 758,1084.6 748.5,1072 761.1,1043.7 742.3,1031.1 717.1,1015.4 701.4,1024.9 726.5,1043.7 745.4,1059.4 732.8,1078.3 710.8,1078.3 698.3,1065.7 673.1,1062.6 651.1,1065.7 622.8,1084.6 600.8,1097.1 582,1116 560,1134.8 544.3,1153.7 528.6,1172.6 516,1191.4 503.4,1210.3 484.6,1222.8 465.7,1235.4 446.9,1251.1 434.3,1257.4 428,1254.3 443.7,1222.8 459.4,1200.8 478.3,1178.8 490.8,1160 484.6,1141.1 465.7,1134.8 459.4,1116 453.1,1097.1 434.3,1087.7 421.7,1103.4 424.9,1125.4 409.1,1119.1 390.3,1103.4 393.4,1081.4 384,1059.4 371.4,1046.9Z M1185.8,728.8 1239.8,728.8 1239.8,737.5 1224.8,749.5 1214.2,760 1209.8,774.8 1200.8,783.8 1188.8,789.8 1187.2,760Z"/>
<path fill="#00C5C5" d="M832.5,755 850,755 862.5,740 882.5,735 892.5,717.5 910,712.5 920,705 937.5,710 945,722.5 950,740 945,752.5 935,757.5 920,772.5 920,790 907.5,795 895,802.5 887.5,815 872.5,825 862.5,832.5 852.5,830 845,815 840,795 835,775Z M905,675 925,662.5 935,675 920,687.5Z M770,785 782.5,778.8 800,795 797.5,807.5 785,810 775,797.5Z M860,975 900,960 915,975 900,1000 885,1010 865,1005Z M1040,660 1055,642.5 1065,650 1075,670 1090,675 1090,715 1075,730 1060,735 1045,745 1035,765 1030,795 1032.5,825 1027.5,840 1022.5,820 1022.5,780 1027.5,745 1032.5,710 1035,685Z M1005,865 1025,860 1027.5,880 1020,895 1005,895Z M1140,592.5 1202.5,555 1240,480 1265,430 1335,340 1475,340 1475,460 1466.2,460 1457.5,465 1450,482.5 1460,490 1452.5,505 1440,512.5 1427.5,512.5 1417.5,511.2 1410,522.5 1402.5,530 1387.5,530 1385,542.5 1360,540 1355,550 1357.5,570 1357.5,582.5 1347.5,592.5 1347.5,597.5 1337.5,600 1330,607.5 1327.5,617.5 1315,625 1305,630 1292.5,632.5 1280,630 1275,640 1262.5,642.5 1252.5,647.5 1245,652.5 1235,652.5 1230,662.5 1220,680 1207.5,680 1200,687.5 1190,695 1186.2,705 1186.2,720 1195,722.5 1207.5,725 1220,722.5 1230,730 1140,730 1130,720 1137.5,690 1130,667.5 1140,645Z M1500,620 1527.5,630 1532.5,655 1515,665 1500,672.5 1480,680 1465,685 1450,690 1440,697.5 1450,675 1470,665 1490,655 1502.5,642.5Z M1347.5,510 1367.5,506.2 1382.5,512.5 1387.5,530 1377.5,537.5 1362.5,537.5 1350,527.5Z M1290,575 1302.5,570 1315,580 1310,595 1295,605 1287.5,592.5Z M1090,650 1105,642.5 1137.5,638.8 1140,652.5 1132.5,667.5 1135,680 1127.5,697.5 1115,705 1097.5,705 1090,692.5Z M1122.5,740 1172.5,735 1175,750 1155,770 1140,770 1115,760Z M1355,730 1350,745 1340,757.5 1322.5,755 1315,767.5 1305,772.5 1290,775 1287.5,790 1305,792.5 1312.5,780 1340,765 1385,760 1422.5,747.5 1437.5,730Z M1265,980 1290,985 1290,1055 1268.8,1055 1275,1030 1276.2,1010 1270,995Z M1207.5,1047.5 1237.5,1045 1237.5,1062.5 1222.5,1057.5 1210,1060Z M1240,1053.8 1290,1053.8 1290,1095 1240,1095Z M1128,1084 1133,1079 1143,1079 1146,1084 1143,1093 1138,1098 1132,1098 1128,1088Z M37.5,450 115,450 115,537.5 37.5,537.5Z M490,995 515,992.5 537.5,1000 540,1020 530,1050 515,1065 500,1045 490,1020Z M525,945 545,940 545,955 527.5,960Z M465,1215 490,1200 515,1200 502.5,1220 485,1232.5 465,1232.5Z M465,1228 490,1218 500,1228 485,1253 475,1278 465,1303 455,1318 450,1313 450,1278 460,1253Z M390,1383 410,1363 430,1358 440,1373 430,1393 410,1408 390,1423 370,1438 350,1458 340,1463 340,1448 355,1438 365,1423 380,1403Z M280,1565.5 287.5,1565.5 287.5,1573 280,1573Z M490.8,1002.9 541.1,999.7 553.7,1028 541.1,1046.9 516,1053.1 497.1,1040.6Z M465.7,1216.6 484.6,1204 509.7,1200.8 503.4,1222.8 478.3,1238.6 459.4,1235.4Z M1499.9,615.2 1509,622.9 1539.5,630.5 1539.5,682.3 1481.6,715.8 1445,737.1 1429.8,760 1381,770.7 1381,792 1311,798.1 1271.3,810.3 1250,831.6 1250,802.7 1280.5,782.9 1311,755.4 1332.3,740.2 1347.5,743.2 1356.7,725 1365.8,706.7 1402.4,706.7 1432.9,676.2 1451.1,664 1486.2,650.3 1496.9,638.1Z"/>
<path fill="#00A8A8" d="M1140,600 1202.5,555 1240,480 1265,430 1335,340 1475,340 1475,400 1445,397.5 1425,405 1412.5,412.5 1400,420 1390,430 1392.5,442.5 1385,450 1365,455 1352.5,462.5 1340,472.5 1327.5,480 1315,490 1310,500 1310,525 1302.5,535 1295,545 1310,542.5 1325,550 1340,550 1355,565 1350,580 1340,587.5 1327.5,590 1315,600 1315,612.5 1305,625 1290,630 1280,627.5 1265,632.5 1250,642.5 1240,647.5 1230,642.5 1215,650 1200,660 1185,665 1165,667.5 1152.5,662.5 1140,652.5Z M1095,655 1120,652.5 1135,655 1130,667.5 1115,685 1097.5,680Z M37.5,450 57.5,450 57.5,480 50,495 37.5,500Z M72.5,500 100,500 100,515 85,515 77.5,510Z M1503,624.4 1539.5,630.5 1539.5,682.3 1481.6,715.8 1445,737.1 1429.8,760 1381,770.7 1359.7,769.1 1344.5,760 1329.2,761.5 1315.5,775.2 1311,798.1 1289.6,802.7 1303.3,779.8 1323.1,760 1335.3,746.3 1359.7,752.4 1387.1,750.9 1420.7,737.1 1425.2,721.9 1440.5,709.7 1455.7,685.3 1478.6,671.6 1506,661 1515.1,645.7Z"/>
<path fill="#ADFF2F" d="M905,736.2 915,736.2 915,750 912.5,750 912.5,740 905,740Z M920,736.2 937.5,736.2 937.5,746.2 926.2,746.2 926.2,740 920,740Z M943.8,746.2 947.5,746.2 947.5,751.2 943.8,751.2Z M1215,585 1237.5,585 1230,595 1225,603.8 1217.5,600Z M1190,605 1200,610 1210,600 1215,607.5 1212.5,617.5 1226.2,620 1220,625 1210,637.5 1207.5,630 1200,627.5 1195,615Z M1165,610 1176.2,610 1177.5,630 1170,630 1165,620Z M1165,638.8 1172.5,638.8 1172.5,646.2 1165,646.2Z M1257.5,580 1265,580 1265,588.8 1257.5,588.8Z M1320,565 1327,565 1327,575 1320,575Z M1333.8,570 1341.2,570 1341.2,580 1337.5,580 1337.5,573.8 1333.8,573.8Z M1356.2,522.5 1362.5,521.2 1370,527.5 1368.8,535 1363.8,535 1361.2,530 1356.2,530Z M1370,511.2 1374.5,511.2 1374.5,516.2 1370,516.2Z M1226.2,633.8 1242.5,628.8 1250,637.5 1240,647.5 1232.5,642.5 1226.2,652.5 1217.5,660 1207.5,667.5 1200,665 1210,655 1220,647.5 1226.2,641.2Z M1240,620 1251.2,620 1251.2,624.5 1240,624.5Z M1113.8,673.8 1121.2,673.8 1121.2,681.2 1113.8,681.2Z M1146.2,692.5 1153.8,692.5 1153.8,705 1146.2,705Z M1186.2,690 1192.5,682.5 1196.2,685 1190,695Z M1150,717.5 1165,720 1175,717.5 1177.5,730 1152.5,730Z M1130,730 1165,730 1160,737.5 1150,742.5 1147.5,752.5 1153.8,760 1153.8,765 1147.5,765 1143.8,752.5 1140,747.5 1143.8,742.5 1133.8,741.2Z M1110,751.2 1117.5,751.2 1117.5,756.2 1110,756.2Z M465,1319.2 471.2,1319.2 470,1333 462.5,1348 450,1358 440,1373 430,1388 420,1393 415,1403 400,1418 390,1425.5 385,1438 378.8,1440.5 377.5,1425.5 385,1410.5 400,1400.5 415,1383 425,1365.5 440,1353 452.5,1343 460,1333Z M388.8,1389.2 398.8,1381.8 398.8,1395.5 392.5,1396.8Z M432.5,1343 438.8,1343 438.8,1353 432.5,1353Z M446.2,1331.8 455,1328 455,1336.8 447.5,1338Z"/>
<path fill="#79C518" d="M430,1378 445,1368 450,1373 440,1388 425,1398 415,1403 410,1398 420,1388Z"/>
<path fill="#FFFFFF" d="M930,741.2 933.8,741.2 933.8,745 930,745Z M1128.8,735 1135,735 1135,740 1128.8,740Z"/>
</g>
<path fill="#93E223" shape-rendering="crispEdges" d="M1515,645 1530,650 1530,675 1515,687.5 1500,692.5 1490,700 1475,705 1465,710 1465,700 1480,690 1500,680 1515,675 1520,665Z"/>
<path fill="#ADFF2F" shape-rendering="crispEdges" d="M1357.5,358.8 1362.5,358.8 1362.5,373.8 1356.2,371.2Z"/>
<path fill="#ADFF2F" shape-rendering="crispEdges" d="M1316.2,775 1322.5,770 1330,762.5 1345,761.2 1352.5,767.5 1356.2,771.2 1355,775 1337.5,776.2 1337.5,785 1327.5,785 1327.5,778.8 1316.2,778.8Z"/>
<path fill="#ADFF2F" shape-rendering="crispEdges" d="M1362.5,770 1373.8,770 1373.8,775 1377,775 1377,780 1373.8,780 1373.8,785 1366.2,785 1366.2,775 1362.5,775Z"/>
<g fill="none" stroke="#333" stroke-width="3.4" stroke-linejoin="round" stroke-linecap="round">
<path d="M40,563.8 43,563.8 47.5,570 51.2,578.8 55,580 65,578.8 72.5,583 81.2,587.5 90,592 102.5,595.8 108.8,601.2 113,606.2 112.5,613.8 116.2,617.5 120,622.5 121.2,628.8 124.5,633 120,633 112.5,630 108,633.8 107.5,641.2 111.2,650 117.5,656.2 120.5,663.8 122.5,672.5 120.5,680 120,692.5 118,705 116.2,715 112.5,719.5 110,722.5 107.5,724.5 103.8,723 100,728.8 98,737.5 96.2,745 93.8,748.8 89.5,750 87.5,753.8 83.8,755 75,755.5 70.5,758.8 68,765 66.2,773.8 63,782.5 66.2,787.5 67.5,792.5 71.2,797.5 77.5,798.8 83,800 85,804.5 88.8,803.8 93.8,797.5 100,790 104.5,790 108,785 111.2,777.5 115,772.5 120,763.8 126.2,758 135,755 140,753.8 143.8,750 148.8,747.5 155,747.5 159.5,751.2 167.5,754.5 171.2,758.8 173.8,766.2 177,771.2 180,778.8 181.2,790 181.2,800 183.8,810 187.5,821.2 188.8,830 190,845 192.5,860 195.5,872.5 191.2,882.5 189.2,892.5 190,905 187.5,915 182.5,922.5 178.8,925 175,920 177,913.8 173.8,910 167.5,911.2 162.5,916.2 163.8,921.2 159.5,927.5 157.5,937.5 153.8,945 145,950 138.8,955 135,962.5 134.5,972.5 132.5,985 126.2,992.5 120,996.2 115,1005 110,1015 107,1022.5 103.8,1030 111.2,1025 117.5,1023 122.5,1027.5 130,1030 136.2,1033.8 142.5,1038.8 150,1043.8 156.2,1045.5 160,1042.5 159.5,1038 163.8,1037.5 165,1042.5 171.2,1044.5 165,1048 157.5,1049.5 151.2,1050.5 148.8,1053.8 152.5,1057.5 157.5,1056.2 165,1053.8 172.5,1051.2 177.5,1053.8 183.8,1058.8 191.2,1062 200,1058 210,1055 220,1052.5 230,1048.8 240,1050 252.5,1049.5 262.5,1045.5 272.5,1038.8 282.5,1030 292.5,1020 302.5,1015 315,1008 330,1003 345,998 361.2,993.8 375,987.5 386.2,981.2 390,977.5 397.5,973.8 410,967.5 427.5,958.8 445,947.5 462.5,935 477.5,923.8 490,910 500,902.5 505.5,896.2 503.8,885 501.2,878.8 496.2,876.2 492,871.2 488.8,861.2 490.5,855 488.8,847.5 493,840 515,835 537.5,831.2 565,828.8 575,829.5 587.5,831.2 600,835 610,842 618.8,846.2 625,841.2 637.5,838.8 650,838 665,840 668.8,843 673.8,838.8 682.5,836.2 690,833.8 692.5,835 697.5,828.8 705,821.2 708.8,819.5 715,813.8 720,812 728.8,813 732.5,805 735,793.8 733.8,785 728.8,778.8 726.2,775 730,771.2 735,772.5 738.8,766.2 740,760 736.2,757.5 733,760 730.5,756.2 735,750 740,753.8 737.5,750 733,748.8 730,751.2 728.8,755 725,748.8 721.2,745 722.5,740 730,736.2 740,731.2 750,725 760,717.5 767.5,710 771.2,700 773.8,693.8 782.5,685 792.5,673.8 802.5,663.8 812.5,655 825,648.8 837.5,642.5 847.5,638 855,636.2 861.2,638.8 877.5,638.8 915,638 980,637 1090,635.5 1141.2,635.5 1146.2,621.2 1150,610 1153.8,605 1162.5,602.5 1170,605 1178.8,601.2 1181.2,598.8 1188.8,596.2 1192.5,600 1196.2,607.5 1200,606.2 1201.2,597.5 1203.8,590 1208.8,587.5 1216.2,591.2 1215,585 1212.5,577.5 1217.5,570 1225,561.2 1235,556.2 1240,550 1237.5,542.5 1241.2,536.2 1247.5,530 1248.8,523.8 1246.2,517.5 1250,510 1251.2,502.5 1247.5,496.2 1251.2,487.5 1256.2,478.8 1265,473.8 1268.8,465 1270,452.5 1272.5,437.5 1280,427.5 1290,413.8 1302.5,397.5 1315,380 1327.5,362.5 1336.2,350 1341.2,347.5 1352.5,350 1353.8,357.5 1353.8,367.5 1357.5,375 1366.2,380 1377.5,376.2 1390,372.5 1400,368.8 1411.2,367.5 1412.5,361.2 1421.2,359.5 1430,361.2 1440,370 1450,378.8 1457.5,388.8 1465,396.2 1466.2,430 1466.2,480 1466.2,525 1463.8,537.5 1465,542.5 1462.5,550 1465,556.2 1472.5,558.8 1476.2,562.5 1485,567.5 1493.8,566.2 1497.5,571.2 1496.2,578.8 1491.2,582.5 1493.8,591.2 1496.2,598.8 1493.8,605 1497.5,612.5 1502.5,620 1511.2,615 1520,620 1526.2,628.8 1527.5,642.5 1522.5,648.8 1517.5,650 1525,653.8 1526.2,657.5 1532.5,657.5 1531.2,663.8 1526.2,666.2 1528.8,670 1520,676.2 1512.5,681.2 1507.5,677.5 1505,673.8 1500,676.2 1498.8,682.5 1493.8,685 1490,680 1486.2,686.2 1482.5,682.5 1480,690 1475,687.5 1471.2,695 1465,690 1460,697.5 1455,692.5 1452.5,705 1446.2,700 1442.5,707.5 1440,715 1436.2,707.5 1432.5,700 1427.5,696.2 1422.5,702.5 1417.5,698.8 1412.5,705 1406.2,698.8 1402.5,707.5 1396.2,710 1393.8,717.5 1397.5,722.5 1390,726.2 1381.2,720 1373.8,717.5 1375,710 1381.2,706.2 1377.5,702.5 1378.8,695 1376.2,690 1373.8,695 1372.5,702.5 1365,703.8 1360,708.8 1361.2,717.5 1357.5,725 1355,730 1351.2,740 1351.2,747.5 1345,753.8 1337.5,757.5 1336.2,762.5 1333.8,760 1330,755 1326.2,751.2 1322.5,755 1318.8,763.8 1313.8,770 1310,765 1306.2,771.2 1302.5,773.8 1298.8,768.8 1293.8,768.8 1288.8,775 1287.5,783.8 1286.2,790 1283.8,783.8 1282.5,775 1278.8,772.5 1275,775 1268.8,776.2 1261.2,780 1255,783.8 1250,791.2 1248.8,796.2 1253.8,802.5 1250,807.5 1242.5,808.8 1240,815 1240,823.8 1232.5,830 1226.2,832.5 1222.5,840 1220,847.5 1216.2,855 1213.8,862.5 1211.2,866.2 1207.5,873.8 1203.8,880 1201.2,886.2 1198.8,892.5 1198,900 1201.2,905 1205,910 1210,915 1213,920 1210,923.8 1202.5,925 1197.5,927.5 1196.2,931.2 1200,933.8 1190,937.5 1186.2,942.5 1186.2,946.2 1182.5,947.5 1182,953.8 1185,960 1188.8,963.8 1192.5,962.5 1193,956.2 1197.5,958.8 1203.8,962.5 1207.5,967.5 1209.5,973.8 1212.5,977.5 1216.2,982.5 1218.8,987.5 1215,990 1212.5,988.8 1212,992.5 1215,995 1220,997.5 1223.8,1002.5 1225,1010 1228.8,1016.2 1235,1020 1242.5,1022.5 1252.5,1020 1262.5,1017 1270,1013.8 1275,1007.5 1275,1000 1271.2,992.5 1266.2,986.2 1260,983 1255,982.5 1252,985 1253.8,987.5 1258.8,986.2 1263.8,990 1268,996.2 1272.5,1002.5 1276.2,1010 1278,1020 1277,1030 1275,1038.8 1271.2,1036.2 1268.8,1031.2 1262.5,1030 1255,1033.8 1248.8,1032.5 1242.5,1035 1236.2,1036.2 1230,1042.5 1222.5,1043 1215,1042.5 1216.2,1032.5 1218.8,1023.8 1212.5,1021.2 1207.5,1026.2 1202.5,1033.8 1197.5,1036.2 1193.8,1041.2 1188.8,1043.8 1186.2,1048.8 1180,1050 1177.5,1047.5 1170,1053.8 1166.2,1050 1163.8,1056.2 1158.8,1056.2 1157,1050 1158,1042.5 1157,1033.8 1152.5,1031.2 1149.5,1036.2 1147.5,1043.8 1150,1051.2 1148,1057.5 1144.5,1063.8 1141.2,1060 1135,1063.8 1127.5,1067 1120,1070 1115,1073 1112,1068.8 1105,1068.8 1090,1071.2 1080,1073.8 1070,1075 1067.5,1070 1065,1073.8 1050,1076.2 1035,1077.5 1022.5,1078.8 1021.2,1073.8 1017.5,1072.5 1012.5,1081.2 1002.5,1085 990,1091.2 977.5,1095 967.5,1102.5 955,1105 950,1112.5 945,1120 940,1125 935,1127.5 932.5,1122.5 935.5,1108 933.8,1120 928.8,1130 925,1138.8 922.5,1147.5 915,1160 907.5,1167.5 901.2,1165 905,1170 911.2,1172.5 920,1175 925,1175 926.2,1171.2 928.8,1180 929.5,1190 927.5,1202.5 923.8,1217.5 920,1232.5 916.2,1242.5 913.8,1252.5 911.2,1262.5 905,1270 898.8,1277.5 892.5,1282.5 891.2,1290 885,1300 876.2,1310 868.8,1322.5 862.5,1335 856.2,1345 850,1350 845,1351.2 842.5,1347.5 845,1342.5 848.8,1335 849.5,1325 845,1322.5 837.5,1318.8 830,1321.2 825,1318.8 817.5,1312.5 812.5,1303.8 805,1297.5 798.8,1290 796.2,1280 791.2,1272.5 792.5,1265 796.2,1257.5 802.5,1246.2"/>
<path d="M40,501.2 50,503.8 55.5,508.8 57.5,515 65,518.8 69.5,522.5 65,525.5 56.2,526.2 51.2,523 40,524.5"/>
<path d="M40,1022.5 107,1019.2"/>
<path d="M361,993.7 361.5,1256.7"/>
<path d="M361.2,1149.5 352.5,1150.5 348.8,1153.8 348,1157.5 352.5,1170 351.2,1185 350,1195 343.8,1210 340,1230 341.2,1235.5 336.2,1236.8 337.5,1243 333.8,1251.8 332.5,1260.5 325,1269.2 315,1280.5 305,1290.5 295,1296.8 287.5,1300 282.5,1294.2 276.2,1296.8 271.2,1303 268.8,1310.5 261.2,1311 257,1318 255,1330.5 250,1334.2 253,1340.5 252.5,1349.2 246.2,1350.5 242.5,1355.5 238.8,1353 240,1345.5 235,1341.8 230.5,1339.2 225,1344.2 222,1351.8 220.5,1360.5 215,1365 216.2,1375.5 217.5,1388 210,1390 207.5,1396.8 205,1404.2 195,1408 187.5,1410 183.8,1409.2 177.5,1400.5 171.2,1394.2 162.5,1389.2 158.8,1380.5 155.5,1371 150,1373 137.5,1379.2 135,1385 127.5,1385.5 121.2,1387.5 115,1381.8 107.5,1378 100,1376 93.8,1378 88.8,1384.2 81.2,1381 73.8,1375.5 70,1370.5 63.8,1366.8 52.5,1366.8 40,1362.5"/>
<path d="M183.8,1409.2 183,1420.5 185,1429.2 183,1438 179.5,1443 183.8,1449.2 190,1458 193,1464.2 192.5,1469.2 197.5,1475.5 201.2,1483 207,1489.2 208.8,1498 215,1503 218.8,1501.8 221.2,1509.2 225,1513.5 232.5,1514.2 237.5,1515.5"/>
<path d="M237.5,1515.5 230,1521.8 220,1530.5 212.5,1536.8 203.8,1544.2 190,1549.2 180,1556.8 172,1564.2 171.2,1573 165,1576.8 160,1580.5 158.8,1589.2"/>
<path d="M1180,600 1184.5,730 1186.2,755 1187.5,780 1188.8,805 1188,825 1190,832.5 1195,838.8 1200,845 1201.2,855 1205,861.2 1211.2,866.2"/>
<path d="M1152.5,986.2 1153.8,997.5 1156.2,1002.5 1157.5,1017.5 1172.5,1020 1177.5,1047.5"/>
<path d="M1117,985.5 1118.8,1005 1119.5,1030 1119.5,1055 1113.8,1058.8 1112.5,1067.5"/>
<path d="M1200,1068.8 1207.5,1062.5 1215,1055 1220,1051.2 1222.5,1055 1226.2,1056.2 1232.5,1060 1233.8,1063.8 1226.2,1066.2 1215,1068.8 1206.2,1070.5 1202.5,1073 1200,1068.8"/>
<path d="M1253.8,1075 1262.5,1072.5 1267.5,1068.8 1268.8,1062.5 1271.2,1062.5 1272.5,1070 1276.2,1076.2 1270,1078.8 1262.5,1079.5 1256.2,1078 1253.8,1075"/>
<path d="M809,989.8 813.8,995.8 816,1002.5 818.2,1006 825,1007 829.8,1011.8 831,1016.2 835.5,1021 834.2,1030 833,1037 836.5,1043.8 840,1049.5 847,1054 852.5,1058 859.5,1058 862.5,1064.5 855,1075 850,1085 842.5,1095 833.8,1102.5 829.5,1110 833.8,1117.5 831.2,1127.5 825,1135 822.5,1145 825,1155 833.8,1160 835,1170 842.5,1177.5 848.8,1187.5 856.2,1197.5 862.5,1202.5 863.8,1207.5 852.5,1212.5 842.5,1220 833.8,1226.2 828.8,1235 820,1241.2 810,1243.8 802.5,1246.2"/>
<path d="M862.5,1064.5 935.5,1108"/>
<path d="M801.2,1246.2 793.8,1243 785,1244.5 777.5,1250 772.5,1257.5"/>
<path d="M361.5,1256.7 772,1256.5"/>
<path d="M981.2,637 983,645 980,655 981.2,670 980,685 983,697.5 985,707.5 985,722.5 977.5,735 973.8,747.5 976.2,760 980,772.5 981.2,785 976.2,797.5 977.5,805 982,800 987.5,802.5 989.5,812.5 988,837.5 987.5,875 988.8,902.5 989.5,920 985,935 980,950 975,965 970,982.5 968,1000 966.2,1035 965,1072.5 970,1081.2 950,1093.8 955,1105"/>
<path d="M905,1166.2 912.5,1151.2 920,1150 913.8,1161.2 907.5,1167.5 905,1166.2"/>
<path d="M802.5,1246.2 797.5,1252.5 793.8,1260 790,1265 788,1272.5 788.8,1282.5 790,1290 793.8,1297.5 798.8,1305 803.8,1315 806.2,1325 807.5,1335 811.2,1347.5 815,1355 822.5,1362.5 828.8,1368.8 833.8,1375 835,1387.5 832.5,1368 835,1378 836.2,1393 835,1406.8 836.2,1420.5 832.5,1433 827.5,1443 822.5,1453 815,1463 811.2,1473 808.8,1478 800,1485.5 793.8,1495.5 790,1505.5 785,1515.5 780,1523 772.5,1528 770,1538 765,1548 761.2,1558 757.5,1564.2 753.8,1558 752.5,1545.5 755,1533 757.5,1520.5 762.5,1508 767.5,1495.5 772.5,1485.5 778.8,1478 777.5,1465.5 767.5,1468 762.5,1463 765,1455.5 771.2,1450.5 765,1443 757.5,1440.5 762.5,1433 758.8,1424.2 751.2,1423 750,1433 745,1428 737.5,1423 730,1418 726.2,1410.5 728.8,1403 732.5,1395.5 740,1393 747.5,1390.5 740,1383 737.5,1375.5 727.5,1378 725,1370.5 730,1363 735,1355.5 737.5,1345.5 742.5,1335.5 737.5,1330.5 731.2,1323 735,1313 740,1304.2 748.8,1300.5 751.2,1293 757.5,1288 762.5,1281.2 755,1275.5 750,1283 745,1290.5 737.5,1296.8 727.5,1300.5 720,1304.2 712.5,1314.2 705,1313.8 708.8,1325.5 712.5,1335.5 711.2,1350.5 706.2,1360.5 703.8,1375.5 705,1388 707.5,1400.5 712.5,1410.5 717.5,1418 718.8,1428 721.2,1440.5 723.8,1454.2 720,1446.8 715,1440.5 707.5,1441.8 700,1439.2 692.5,1435.5 685,1431.8 680,1426.8 675,1420.5 667.5,1415.5 666.2,1409.2 662.5,1406.8"/>
<path d="M565,1261.8 575,1269.2 590,1270.5 595,1278 593.8,1283 598.8,1286.8 602.5,1295.5 603.8,1303 615,1309.2 625,1314.2 626.2,1319.2 620,1323 618.8,1328 625,1333 633.8,1336.8 640,1338 645,1345.5 652.5,1348 657.5,1350.5 661.2,1356.8 661.2,1363 662.5,1370.5 658.8,1378 651.2,1381.8 646.2,1389.2 641.2,1394.2 638.8,1403 637.5,1413 640,1420.5 645,1423 651.2,1418 657.5,1413 662.5,1406.8"/>
<path d="M657.5,1350.5 663.8,1343.5 673,1355 666.2,1363 661.2,1356.8"/>
<path d="M565,1298 593.8,1326.8 603.8,1305.5"/>
<path d="M770.5,1259.2 779.5,1406.8 833.8,1406.8"/>
<path d="M777.5,1463 785,1460.5 807.5,1456.8"/>
<path d="M665,1410.5 672.5,1423 680,1433 685,1436.8 690,1443 697.5,1446.8 705,1450.5 712.5,1455.5 715,1463 722.5,1470.5 730,1473 732.5,1478 725,1483 725,1493 722.5,1503 715,1500.5 707.5,1495.5 701.2,1490.5 702.5,1500.5 710,1506.8 717.5,1511.8 725,1515.5 717.5,1519.2 727.5,1525.5 730,1538 725,1535.5 717.5,1538 720,1545.5 715,1548 717.5,1555.5 725,1563 730,1570.5 727.5,1578 715,1580.5 705,1570.5 695,1563 687.5,1555.5 677.5,1553 668.8,1549.2 675,1543"/>
<path d="M671.2,1456.8 676.2,1459.2 685,1473 695,1485.5 701.2,1490.5 693.8,1486.8 682.5,1474.2 673.8,1461.8 671.2,1456.8"/>
<path d="M682.5,1516.8 687.5,1518 700,1535.5 712.5,1549.2 707.5,1546.8 695,1535.5 685,1523 682.5,1516.8"/>
<path d="M693.8,1403 700,1403 710,1415.5 716.2,1424.2 712.5,1423 702.5,1413 695,1406.8 693.8,1403"/>
<path d="M817.5,1433 822.5,1434.2 817.5,1450.5 811.2,1465.5 807.5,1478 810,1463 815,1448 817.5,1433"/>
<path d="M725,1583 735,1584.2 745,1588 755,1589.2"/>
<path d="M936,1126 941,1123 946,1120 952,1118 960,1114 966,1118 970,1120 974,1115 984,1114 992,1118 998,1115 1001,1111 1006,1113 1020,1112 1032,1111 1040,1109 1048,1104 1056,1098 1064,1093 1072,1090 1077,1091 1076,1094 1070,1096 1064,1100 1058,1106 1052,1112 1046,1116 1044,1118 1052,1119 1054,1124 1058,1124 1060,1118 1064,1114 1068,1107 1074,1104 1080,1105 1086,1103 1092,1106 1100,1102 1108,1098 1110,1100 1108,1103 1100,1108 1090,1113 1080,1118 1070,1123 1060,1127 1050,1132 1040,1137 1030,1141 1020,1144 1008,1147 1000,1140 990,1143 980,1147 970,1149 960,1152 952,1155 946,1159 936,1161 932,1159 934,1155 940,1152 945,1151 940,1155 932,1160 926,1158 923,1148 926,1140 930,1132 936,1126"/>
<path d="M237.5,1515.5 238.8,1521.8 235,1525.5 238.8,1530.5 241.2,1536.8 246.2,1543 252.5,1546.8 260,1553 268.8,1554.2 275,1549.2 283.8,1544.2 287.5,1539.2 292.5,1544.2 296.2,1549.2 301.2,1550.5 311.2,1545.5 322.5,1541.8 330,1538 331.2,1531.8 335,1529.2 340,1531.8 350,1526.8 362.5,1521.8 366.2,1526.8 372.5,1523 380,1518 378.8,1513 383.8,1509.2 388.8,1506 382.5,1500.5 383.8,1490.5 390,1478 400,1465.5 407.5,1455.5 412.5,1443 417.5,1433 423.8,1425.5 428.8,1418 432.5,1403 435,1393 440,1390 446.2,1395.5 450,1405.5 457.5,1410.5 465,1411 471.2,1405.5 477.5,1395.5 483.8,1383 488.8,1368 495,1361.8 503.8,1370.5 508.8,1363 515,1353 525,1345.5 533.8,1334.2 542.5,1325.5 545,1313 547.5,1300.5 550,1289.2 565,1301.8"/>
<path d="M450,1256.8 450,1319.2 465,1306.8 480,1295.5 487.5,1288 493.8,1290.5 505,1278 512.5,1269.2 517.5,1276.8 530,1281.8 538.8,1280.5 542.5,1270.5 552.5,1268 565,1261.8"/>
<path d="M1141.2,635.5 1140,645 1136.2,655 1131.2,667.5 1135,677.5 1138.8,685 1135,695 1127.5,702.5 1115,710 1105,716.2 1097.5,720 1095,730 1090,752.5 1082.5,775 1075,792.5 1070,807.5 1065,825 1063,840 1061.2,860 1058.8,870 1053.8,880 1051.2,890 1053.8,898.8 1057,903.8"/>
<path d="M427.5,958.5 427.5,989.8 809,989.8 809,989.8"/>
<path d="M770.5,1257.5 780,1400"/>
<path d="M988.8,903 1057,903.8 1090,905 1090,907 1158.8,908.8 1162.5,905 1168.8,902.5 1170,896.2 1176.2,895 1182.5,888.8 1190,887 1197.5,887.5 1198.8,892.5"/>
<path d="M970.5,983.8 1027.5,986.2 1030.5,990 1033.8,986.2 1090,985 1090,986.2 1117,985 1119.5,987.5 1152.5,986.2"/>
<path stroke-width="7" d="M994,1152 1012,1145 1028,1138 1043,1130"/>
<path stroke-width="6" d="M920,1221.2 921.5,1232.5 918.5,1250"/>
</g></g>
<g font-weight="bold" font-size="46.2" letter-spacing="-0.3" text-anchor="middle"><text x="904.2" y="79.4">Neogalerucella calmariensis: Earliest date of 1st gen. egg laying</text><text x="904.2" y="133">2022</text></g>
<g font-size="37" letter-spacing="-0.546" text-anchor="middle"><text x="904.5" y="195">Maps and modeling 11/23/2021 by Oregon State University IPPC USPEST.ORG and</text><text x="904.5" y="239" letter-spacing="-0.6">USDA-APHIS-PPQ; climate data from OSU PRISM Climate Group</text></g>
<g font-weight="bold" font-size="34.8"><text x="1806.3" y="478.6">Earliest date</text><text x="1806.3" y="516.1">of 1st gen. egg</text><text x="1806.3" y="554">laying</text></g>
<g font-size="28.8">
<rect x="1807" y="576" width="60" height="60.5" fill="#A800A8"/><text x="1885.5" y="616.2">May-23</text>
<rect x="1807" y="636" width="60" height="60.5" fill="#8B008B"/><text x="1885.5" y="676.2">May-30</text>
<rect x="1807" y="696" width="60" height="60.5" fill="#FF8247"/><text x="1885.5" y="736.2">Jun-06</text>
<rect x="1807" y="756" width="60" height="60.5" fill="#E2733F"/><text x="1885.5" y="796.2">Jun-13</text>
<rect x="1807" y="816" width="60" height="60.5" fill="#C56537"/><text x="1885.5" y="856.2">Jun-20</text>
<rect x="1807" y="876" width="60" height="60.5" fill="#A8562E"/><text x="1885.5" y="916.2">Jun-27</text>
<rect x="1807" y="936" width="60" height="60.5" fill="#00FFFF"/><text x="1885.5" y="976.2">Jul-04</text>
<rect x="1807" y="996" width="60" height="60.5" fill="#00E2E2"/><text x="1885.5" y="1036.2">Jul-11</text>
<rect x="1807" y="1056" width="60" height="60.5" fill="#00C5C5"/><text x="1885.5" y="1096.2">Jul-18</text>
<rect x="1807" y="1116" width="60" height="60.5" fill="#00A8A8"/><text x="1885.5" y="1156.2">Jul-25</text>
<rect x="1807" y="1176" width="60" height="60.5" fill="#ADFF2F"/><text x="1885.5" y="1216.2">Aug-01</text>
<rect x="1807" y="1236" width="60" height="60.5" fill="#93E223"/><text x="1885.5" y="1276.2">Aug-08</text>
<rect x="1807" y="1296" width="60" height="60.5" fill="#79C518"/><text x="1885.5" y="1336.2">Aug-15</text>
<rect x="1807" y="1356" width="60" height="60.5" fill="#5FA80C"/><text x="1885.5" y="1396.2">Aug-22</text>
</g></svg></body></html>
